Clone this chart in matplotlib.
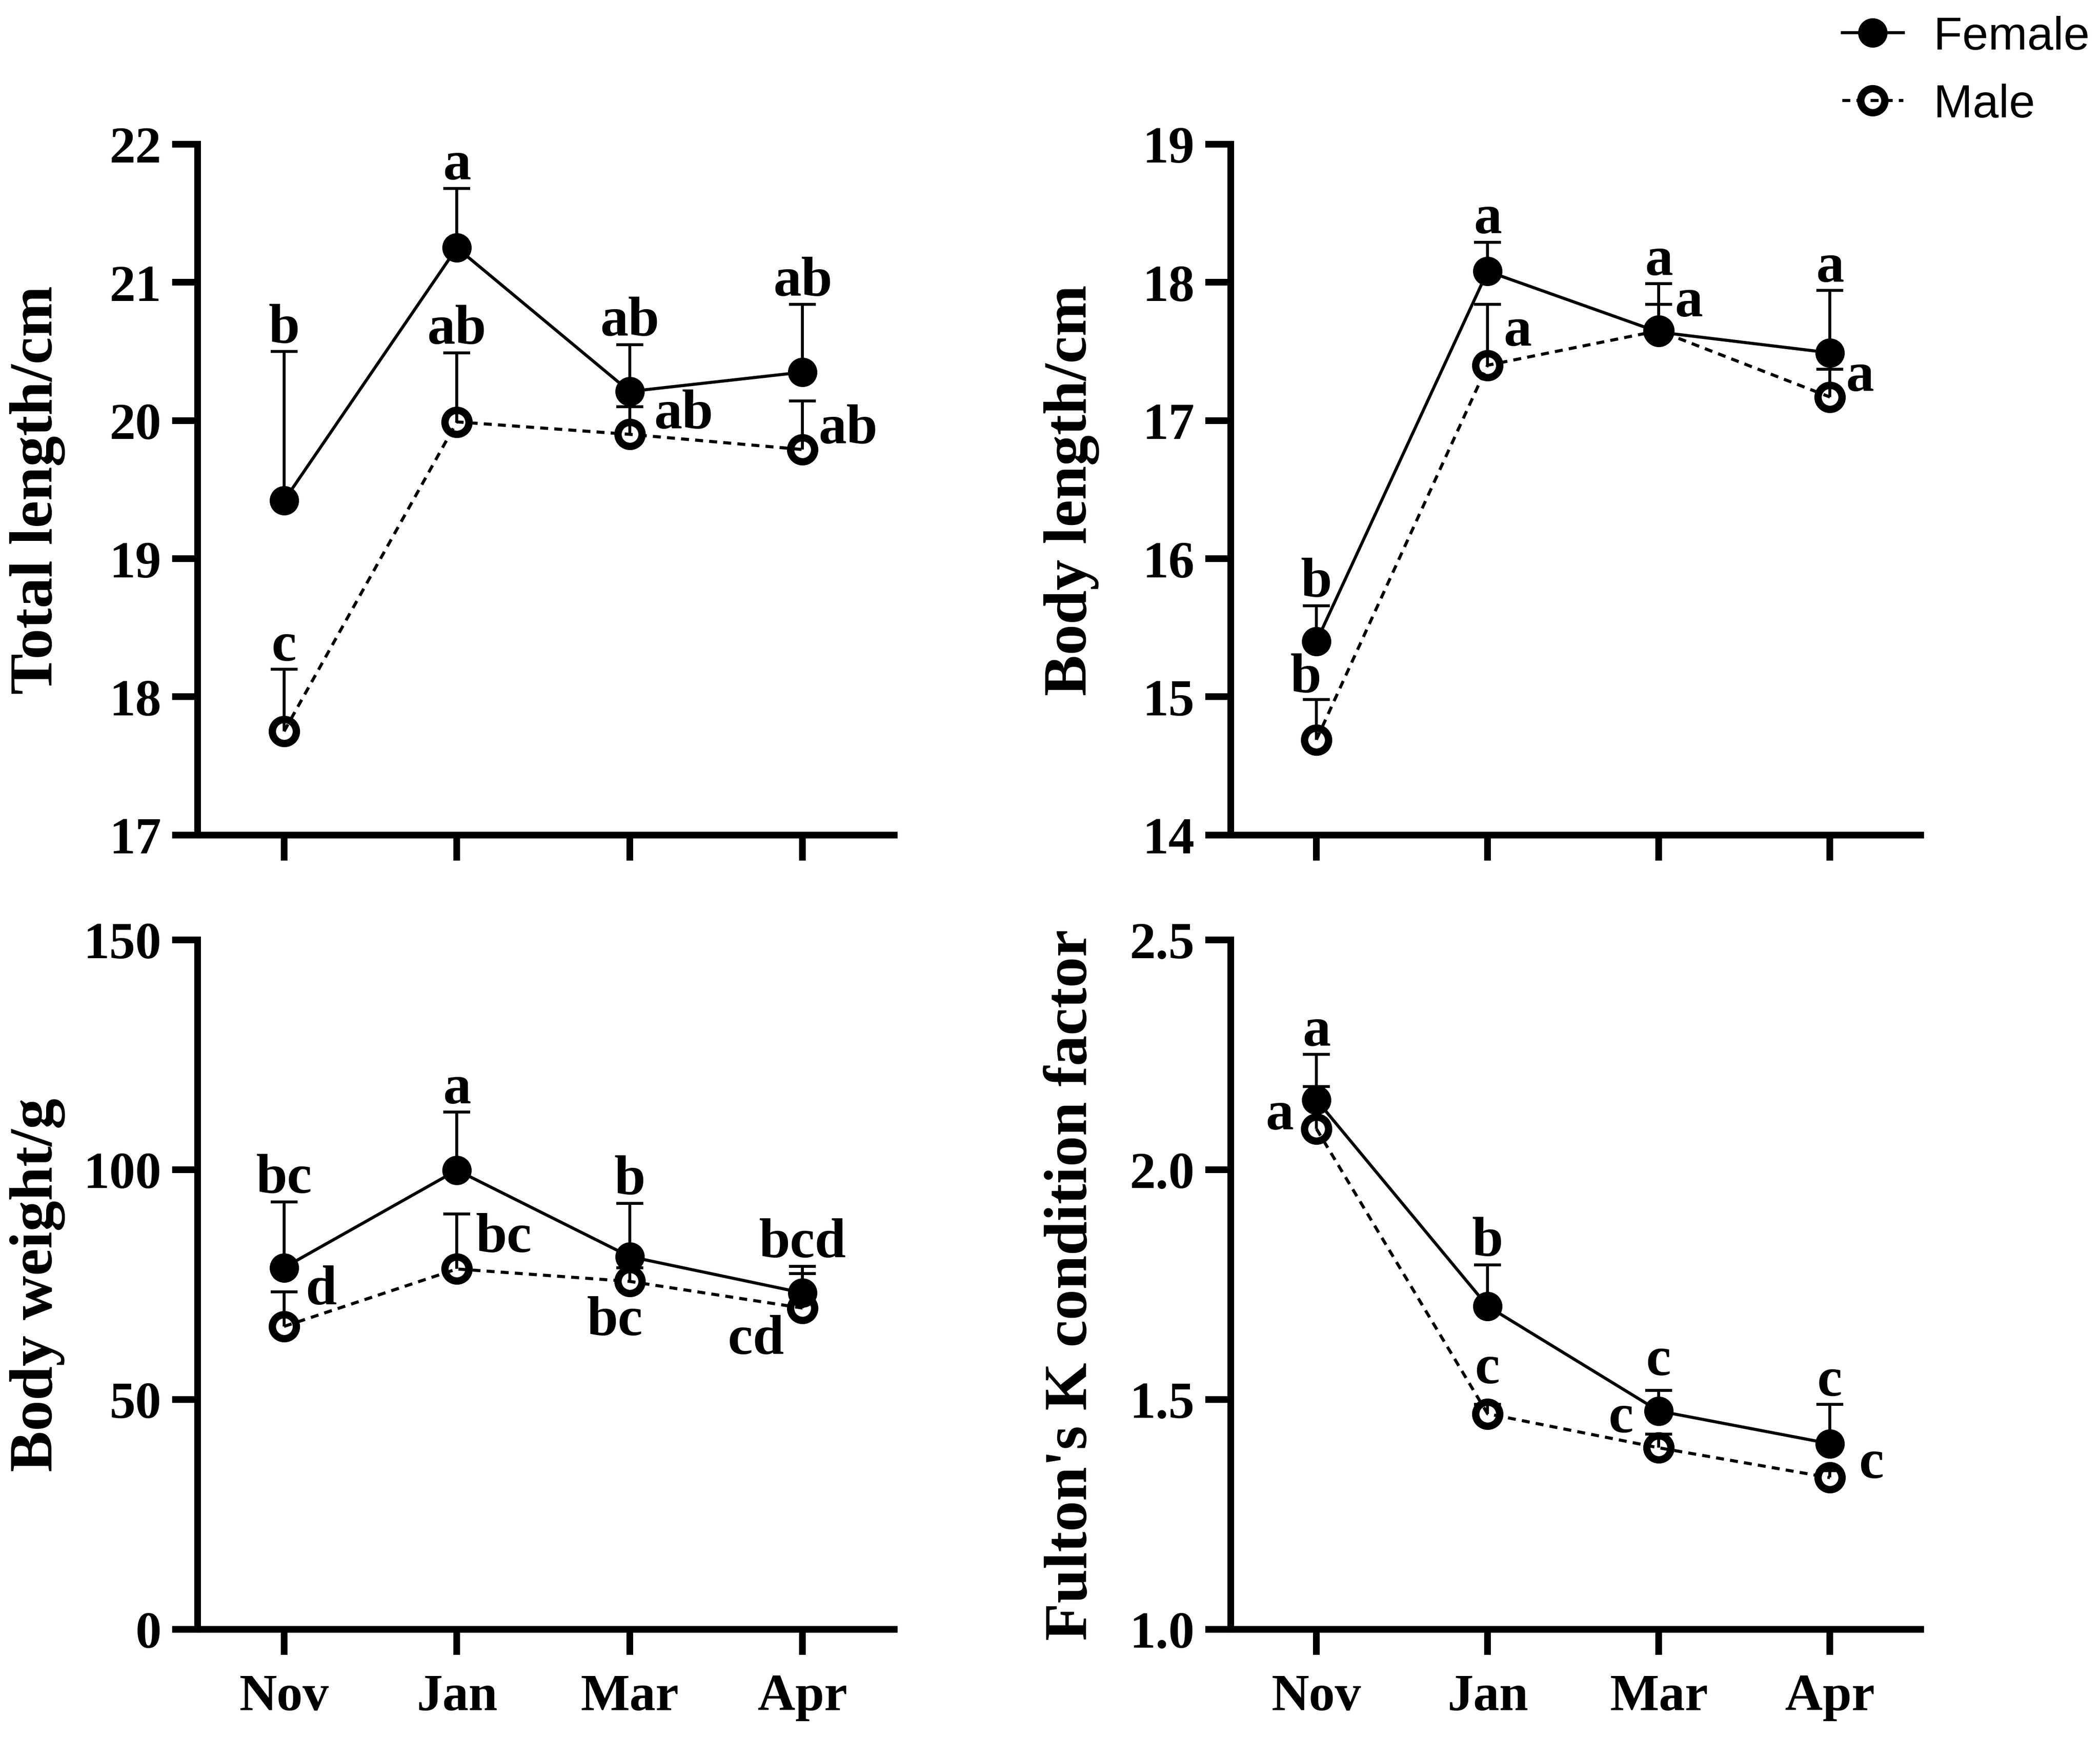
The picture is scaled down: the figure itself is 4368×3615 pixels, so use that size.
import matplotlib
matplotlib.use('Agg')
from matplotlib import pyplot as plt
from matplotlib.ticker import FormatStrFormatter
import numpy as np

plt.rcParams['font.family'] = ['Liberation Serif', 'DejaVu Serif']
plt.rcParams['font.weight'] = 'bold'

### - Data

months = ['Nov', 'Jan', 'Mar', 'Apr']

# Total length/cm
tl_female = [19.42, 21.25, 20.21, 20.35]
tl_female_err = [1.08, 0.43, 0.34, 0.49]
tl_male = [17.75, 19.99, 19.90, 19.79]
tl_male_err = [0.45, 0.50, 0.20, 0.35]
tl_female_letters = ['b', 'a', 'ab', 'ab']
tl_male_letters = ['c', 'ab', 'ab', 'ab']

# Body length/cm
bl_female = [15.40, 18.08, 17.64, 17.49]
bl_female_err = [0.26, 0.21, 0.35, 0.45]
bl_male = [14.69, 17.40, 17.65, 17.17]
bl_male_err = [0.29, 0.44, 0.19, 0.20]
bl_female_letters = ['b', 'a', 'a', 'a']
bl_male_letters = ['b', 'a', 'a', 'a']

# Body weight/g
bw_female = [78.7, 99.9, 81.1, 73.2]
bw_female_err = [14.3, 12.6, 11.6, 5.8]
bw_male = [65.9, 78.4, 75.7, 69.9]
bw_male_err = [7.5, 12.0, 3.0, 7.5]
bw_female_letters = ['bc', 'a', 'b', 'bcd']
bw_male_letters = ['d', 'bc', 'bc', 'cd']

# Fulton's K condition factor
k_female = [2.152, 1.703, 1.475, 1.404]
k_female_err = [0.099, 0.090, 0.045, 0.085]
k_male = [2.089, 1.469, 1.395, 1.330]
k_male_err = [0.092, 0.021, 0.030, 0.015]
k_female_letters = ['a', 'b', 'c', 'c']
k_male_letters = ['a', 'c', 'c', 'c']

### - Letter placement (anchor, dx pt, dy pt, ha) - 'err' = top of error bar, 'mark' = marker centre
TOP = ('err', 0, 7, 'center')
tl_female_pos = [TOP, TOP, TOP, TOP]
tl_male_pos = [TOP, TOP, ('mark', 18, 5, 'left'), ('mark', 12, 5, 'left')]
bl_female_pos = [TOP, TOP, TOP, TOP]
bl_male_pos = [('err', -8, 6, 'center'), ('mark', 12, 15, 'left'), ('mark', 12, 11, 'left'), ('mark', 12, 5, 'left')]
bw_female_pos = [TOP, TOP, TOP, TOP]
bw_male_pos = [('mark', 16, 17, 'left'), ('mark', 14, 13, 'left'), ('mark', -11, -40, 'center'), ('mark', -35, -34, 'center')]
k_female_pos = [TOP, TOP, ('err', 0, 12, 'center'), TOP]
k_male_pos = [('mark', -17, 0, 'right'), ('err', 0, 16, 'center'), ('mark', -19, 12, 'right'), ('mark', 22, 0, 'left')]


### - Helper Functions

def add_series(ax, vals, errs, filled, label, z):
    x = np.arange(len(months))
    eb = ax.errorbar(x, vals, yerr=[np.zeros(len(vals)), errs], fmt='none', ecolor='black',
                     elinewidth=2.2, capsize=10, capthick=2.2, zorder=z)
    eb[1][0].set_visible(False)                       # hide the lower cap (sits at the mean)
    if filled:
        line, = ax.plot(x, vals, color='black', lw=2.3, marker='o', ms=21, mfc='black',
                        mec='black', mew=1, zorder=z + 1, label=label)
    else:
        line, = ax.plot(x, vals, color='black', lw=2.3, ls=(0, (2.6, 2.0)), marker='o', ms=18,
                        mfc='none', mec='black', mew=5.5, zorder=z + 1, label=label)
    return line


def add_letters(ax, vals, errs, letters, positions):
    for i, (letter, pos) in enumerate(zip(letters, positions)):
        anchor, dx, dy, ha = pos
        y = vals[i] + errs[i] if anchor == 'err' else vals[i]
        ax.annotate(letter, (i, y), xytext=(dx, dy), textcoords='offset points',
                    ha=ha, va='baseline', fontsize=42, fontweight='bold', zorder=10)


def style_axis(ax, ylim, yticks, ylabel, show_months, fmt=None):
    ax.set_xlim(-0.5, 3.53)
    ax.set_ylim(*ylim)
    ax.set_yticks(yticks)
    ax.set_xticks(np.arange(len(months)))
    ax.set_xticklabels(months)
    if fmt:
        ax.yaxis.set_major_formatter(FormatStrFormatter(fmt))
    for side in ['top', 'right']:
        ax.spines[side].set_visible(False)
    for side in ['left', 'bottom']:
        ax.spines[side].set_linewidth(5)
    ax.tick_params(axis='both', length=19, width=5, labelsize=39)
    ax.tick_params(axis='y', pad=8)
    ax.tick_params(axis='x', pad=14, labelbottom=show_months)
    ax.set_ylabel(ylabel, fontsize=46, fontweight='bold')
    ax.yaxis.set_label_coords(-0.19, 0.5)


### - Figure

fig = plt.figure(figsize=(21.84, 18.08), dpi=200)
ax_tl = fig.add_axes([0.0941, 0.5194, 0.3317, 0.3974])
ax_tr = fig.add_axes([0.5861, 0.5194, 0.3285, 0.3974])
ax_bl = fig.add_axes([0.0941, 0.0625, 0.3317, 0.3966])
ax_br = fig.add_axes([0.5861, 0.0625, 0.3285, 0.3966])

# Total length
add_series(ax_tl, tl_male, tl_male_err, False, 'Male', 2)
add_series(ax_tl, tl_female, tl_female_err, True, 'Female', 4)
add_letters(ax_tl, tl_female, tl_female_err, tl_female_letters, tl_female_pos)
add_letters(ax_tl, tl_male, tl_male_err, tl_male_letters, tl_male_pos)
style_axis(ax_tl, (17, 22), [17, 18, 19, 20, 21, 22], 'Total length/cm', False)

# Body length
m_line = add_series(ax_tr, bl_male, bl_male_err, False, 'Male', 2)
f_line = add_series(ax_tr, bl_female, bl_female_err, True, 'Female', 4)
add_letters(ax_tr, bl_female, bl_female_err, bl_female_letters, bl_female_pos)
add_letters(ax_tr, bl_male, bl_male_err, bl_male_letters, bl_male_pos)
style_axis(ax_tr, (14, 19), [14, 15, 16, 17, 18, 19], 'Body length/cm', False)

# Body weight
add_series(ax_bl, bw_male, bw_male_err, False, 'Male', 2)
add_series(ax_bl, bw_female, bw_female_err, True, 'Female', 4)
add_letters(ax_bl, bw_female, bw_female_err, bw_female_letters, bw_female_pos)
add_letters(ax_bl, bw_male, bw_male_err, bw_male_letters, bw_male_pos)
style_axis(ax_bl, (0, 150), [0, 50, 100, 150], 'Body weight/g', True)

# Fulton's K
add_series(ax_br, k_male, k_male_err, False, 'Male', 2)
add_series(ax_br, k_female, k_female_err, True, 'Female', 4)
add_letters(ax_br, k_female, k_female_err, k_female_letters, k_female_pos)
add_letters(ax_br, k_male, k_male_err, k_male_letters, k_male_pos)
style_axis(ax_br, (1.0, 2.5), [1.0, 1.5, 2.0, 2.5], "Fulton's K condition factor", True, fmt='%.1f')

fig.legend(handles=[f_line, m_line], labels=['Female', 'Male'], loc='upper right',
           bbox_to_anchor=(0.995, 0.991), frameon=False, numpoints=1,
           prop={'family': 'Liberation Sans', 'size': 35, 'weight': 'normal'},
           handlelength=1.3, handletextpad=0.65, labelspacing=0.53,
           borderpad=0, borderaxespad=0)

fig.savefig('out.png', dpi=200)
